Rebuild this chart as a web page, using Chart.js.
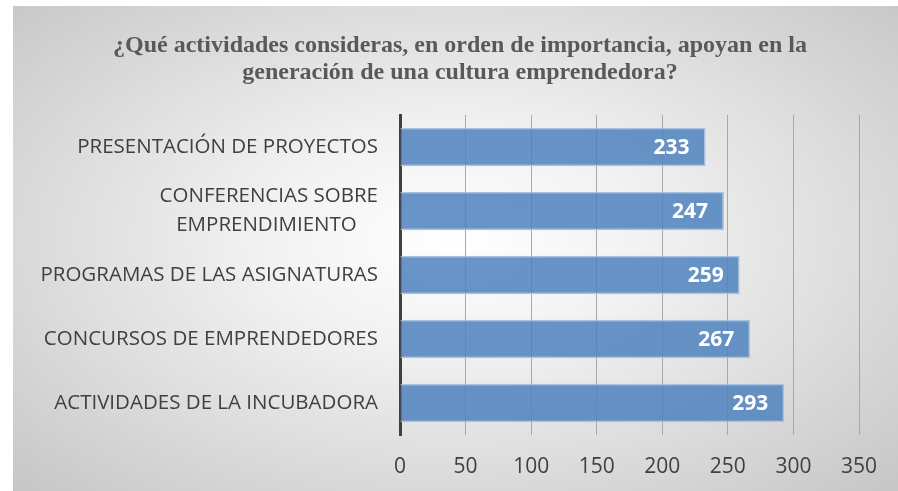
<!DOCTYPE html>
<html lang="es">
<head>
<meta charset="UTF-8">
<title>Cultura emprendedora</title>
<script src="https://cdn.jsdelivr.net/npm/chart.js@4.4.1/dist/chart.umd.min.js"></script>
<style>
    html, body { margin: 0; padding: 0; background: #fff; }
    #box {
        position: absolute;
        left: 13px; top: 6px;
        width: 885px; height: 485px;
        background: radial-gradient(ellipse at 50% 48%, #ffffff 0%, #f2f2f2 30%, #d9d9d9 70%, #c6c6c6 100%);
    }
</style>
</head>
<body>
<div id="box"><canvas id="c" width="885" height="485"></canvas></div>
<script>
const titleLines = ['¿Qué actividades consideras, en orden de importancia, apoyan en la',
                    'generación de una cultura emprendedora?'];
const categories = [
    'PRESENTACIÓN DE PROYECTOS',
    ['CONFERENCIAS SOBRE', 'EMPRENDIMIENTO    '],
    'PROGRAMAS DE LAS ASIGNATURAS',
    'CONCURSOS DE EMPRENDEDORES',
    'ACTIVIDADES DE LA INCUBADORA'
];
const values = [233, 247, 259, 267, 293];

const labelFont = '"Open Sans", sans-serif';

// title drawn by hand so both lines sit where they should
const titlePlugin = {
    id: 'titleLines',
    afterDraw(chart) {
        const ctx = chart.ctx;
        ctx.save();
        ctx.font = 'bold 24px "Liberation Serif", serif';
        ctx.fillStyle = '#595959';
        ctx.textAlign = 'center';
        ctx.textBaseline = 'middle';
        ctx.fillText(titleLines[0], 447, 40);
        ctx.fillText(titleLines[1], 447, 67);
        ctx.restore();
    }
};

// values inside the end of each bar
const valuePlugin = {
    id: 'valueLabels',
    afterDatasetsDraw(chart) {
        const ctx = chart.ctx;
        const meta = chart.getDatasetMeta(0);
        ctx.save();
        ctx.font = 'bold 21px "Open Sans", sans-serif';
        ctx.fillStyle = '#ffffff';
        ctx.textAlign = 'right';
        ctx.textBaseline = 'middle';
        meta.data.forEach((bar, i) => {
            ctx.fillText(values[i], bar.x - 16, bar.y + 1);
        });
        ctx.restore();
    }
};

new Chart(document.getElementById('c'), {
    type: 'bar',
    data: {
        labels: categories,
        datasets: [{
            data: values,
            backgroundColor: 'rgba(79,129,189,0.85)',
            borderColor: '#a4c0e2',
            borderWidth: 1.5,
            barPercentage: 0.6,
            categoryPercentage: 1
        }]
    },
    options: {
        indexAxis: 'y',
        responsive: false,
        animation: false,
        layout: { padding: { top: 109, right: 39, left: 0, bottom: 0 } },
        plugins: {
            legend: { display: false },
            title: { display: false },
            tooltip: { enabled: false }
        },
        scales: {
            x: {
                min: 0, max: 350,
                ticks: { stepSize: 50, color: '#404040', font: { family: labelFont, size: 21 }, padding: 19 },
                grid: { color: '#a8a8a8', lineWidth: 1, drawTicks: false },
                border: { display: false },
                afterFit(scale) { scale.height = 56; }
            },
            y: {
                ticks: { color: '#404040', font: { family: labelFont, size: 20.5, lineHeight: 1.4 }, padding: 22, autoSkip: false },
                grid: { display: false, drawTicks: false },
                border: { color: '#404040', width: 3 },
                afterFit(scale) { scale.width = 387; }
            }
        }
    },
    plugins: [titlePlugin, valuePlugin]
});
</script>
</body>
</html>
